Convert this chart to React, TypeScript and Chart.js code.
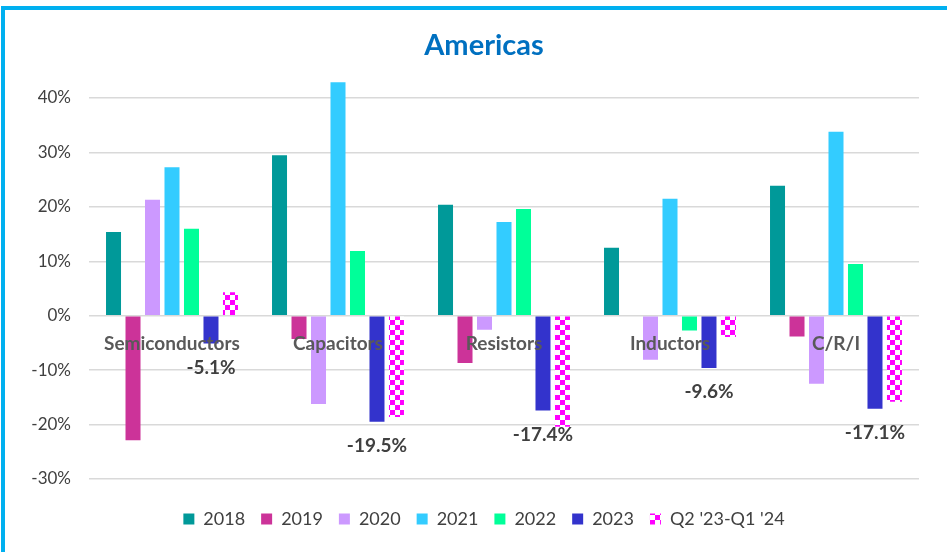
import { useEffect, useRef } from 'react';
import { Chart, registerables } from 'chart.js';

Chart.register(...registerables);

const categories = ['Semiconductors', 'Capacitors', 'Resistors', 'Inductors', 'C/R/I'];
const seriesNames = ['2018', '2019', '2020', '2021', '2022', '2023', "Q2 '23-Q1 '24"];
const values2018 = [15.4, 29.5, 20.4, 12.5, 23.9];
const values2019 = [-22.9, -4.3, -8.7, null, -3.8];
const values2020 = [21.3, -16.2, -2.6, -8.1, -12.5];
const values2021 = [27.3, 42.9, 17.2, 21.5, 33.8];
const values2022 = [16.0, 11.9, 19.6, -2.7, 9.5];
const values2023 = [-5.1, -19.5, -17.4, -9.6, -17.1];
const valuesRecent = [4.3, -18.6, -20.4, -3.9, -15.8];
const seriesColors = ['#009999', '#CC3399', '#CC99FF', '#33CCFF', '#00FF99', '#3333CC', '#FF00FF'];
const yMin = -30;
const yMax = 45;
const yStep = 10;
const labelledSeries = 5;

function makePattern(color: string) {
  const c = document.createElement('canvas');
  c.width = 10;
  c.height = 10;
  const g = c.getContext('2d')!;
  g.fillStyle = '#ffffff';
  g.fillRect(0, 0, 10, 10);
  g.fillStyle = color;
  g.fillRect(0, 0, 5, 5);
  g.fillRect(5, 5, 5, 5);
  const ctx = document.createElement('canvas').getContext('2d')!;
  return ctx.createPattern(c, 'repeat');
}

const valueLabels = {
  id: 'valueLabels',
  afterDatasetsDraw(chart: any) {
    const meta = chart.getDatasetMeta(labelledSeries);
    const data = chart.data.datasets[labelledSeries].data;
    const ctx = chart.ctx;
    ctx.save();
    ctx.font = 'bold 19px Lato';
    ctx.fillStyle = '#404040';
    ctx.textAlign = 'center';
    ctx.textBaseline = 'middle';
    meta.data.forEach((el: any, i: number) => {
      const v = data[i];
      if (v === null || v === undefined) return;
      const y = v < 0 ? el.y + 24 : el.y - 24;
      ctx.fillText(v.toFixed(1) + '%', el.x, y);
    });
    ctx.restore();
  },
};

export default function App() {
  const ref = useRef<HTMLCanvasElement>(null);
  useEffect(() => {
    const all = [values2018, values2019, values2020, values2021, values2022, values2023, valuesRecent];
    const datasets = all.map((d, i) => ({
      label: seriesNames[i],
      data: d,
      backgroundColor: i === 6 ? makePattern(seriesColors[i]) : seriesColors[i],
      borderWidth: 0,
      categoryPercentage: 0.822,
      barPercentage: 0.77,
      xAxisID: 'x',
      yAxisID: 'y',
    }));
    const chart = new Chart(ref.current!, {
      type: 'bar',
      data: { labels: categories, datasets: datasets as any },
      plugins: [valueLabels],
      options: {
        animation: false,
        responsive: false,
        maintainAspectRatio: false,
        layout: { padding: { top: 20, left: 9, right: -12, bottom: 14 } },
        plugins: {
          title: {
            display: true,
            text: 'Americas',
            color: '#0070C0',
            font: { family: 'Lato', size: 29, weight: 'bold' },
            padding: { top: 8, bottom: 8 },
          },
          legend: {
            position: 'bottom',
            labels: {
              boxWidth: 11,
              boxHeight: 11,
              padding: 16,
              color: '#404040',
              font: { family: 'Lato', size: 18 },
            },
          },
          tooltip: { enabled: false },
        },
        scales: {
          x: {
            type: 'category',
            position: { y: 0 } as any,
            grid: { display: false, drawTicks: false },
            border: { display: false },
            ticks: {
              z: 1,
              color: '#595959',
              padding: 17,
              font: { family: 'Lato', size: 19, weight: 'bold' },
            },
          },
          xpad: {
            type: 'category',
            position: 'bottom',
            grid: { display: false, drawTicks: false },
            border: { display: false },
            ticks: { display: false },
            afterFit: (s: any) => {
              s.height = 15;
            },
          },
          y: {
            min: yMin,
            max: yMax,
            grid: { color: '#d9d9d9', lineWidth: 1.5, drawTicks: false },
            border: { display: false },
            afterFit: (s: any) => {
              s.width = 80;
            },
            ticks: {
              stepSize: yStep,
              includeBounds: false,
              padding: 18,
              color: '#404040',
              font: { family: 'Lato', size: 17 },
              callback: (v: any) => v + '%',
            },
          },
          ypad: {
            type: 'linear',
            position: 'right',
            grid: { display: false, drawTicks: false },
            border: { display: false },
            ticks: { display: false },
            afterFit: (s: any) => {
              s.width = 40;
            },
          },
        },
      },
    });
    return () => chart.destroy();
  }, []);
  return (
    <div style={{ position: 'fixed', left: 0, top: 0, width: 947, height: 552, background: '#fff' }}>
      <div
        style={{
          position: 'absolute',
          left: 1,
          top: 6,
          width: 946,
          height: 546,
          borderTop: '4px solid #00B0F0',
          borderLeft: '4px solid #00B0F0',
          boxSizing: 'border-box',
        }}
      />
      <canvas ref={ref} width={947} height={552} style={{ position: 'absolute', left: 0, top: 0 }} />
    </div>
  );
}
